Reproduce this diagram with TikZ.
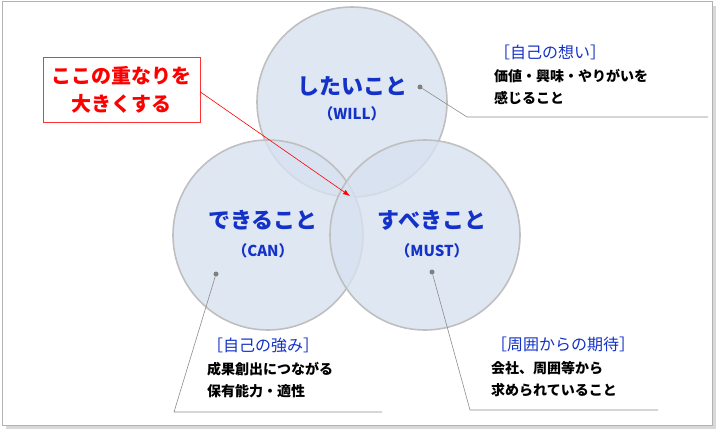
\documentclass[tikz,border=0pt]{standalone}
\usepackage{fontspec}
\setmainfont{Noto Sans CJK JP}
\usetikzlibrary{arrows.meta}
\definecolor{circfill}{RGB}{215,225,240}
\definecolor{titleblue}{RGB}{20,50,200}
\newcommand{\notehead}[1]{\textcolor{titleblue}{\fontsize{16}{22.5}\selectfont\mdseries #1}}
\tikzset{
  venn/.style={draw=black!25,line width=1.6pt,fill=circfill,fill opacity=0.8},
  vtitle/.style={text=titleblue,font=\fontsize{22}{24}\selectfont\bfseries},
  vsub/.style={text=titleblue,font=\fontsize{15}{17}\selectfont\bfseries},
  note/.style={align=left,anchor=north west,font=\fontsize{14}{22.5}\selectfont\bfseries,inner sep=0pt},
  lead/.style={draw=black!45,line width=0.6pt},
  dot/.style={circle,fill=black!50,inner sep=0pt,minimum size=5pt}
}
\begin{document}
\begin{tikzpicture}[x=1pt,y=-1pt]
  \useasboundingbox (0,0) rectangle (720,433);
  \draw[black!30,line width=1pt] (2,2) rectangle (712,425);
  \draw[black!15,line width=3pt] (714,6) -- (714,427) -- (6,427);
  % Circles
  \draw[venn] (352,102) circle (95);
  \draw[venn] (268,235) circle (95);
  \draw[venn] (425,235) circle (95);
  % Circle titles
  \node[vtitle] (will) at (352,86) {したいこと};
  \node[vsub] (willsub) at (352,114) {（WILL）};
  \node[vtitle] (can) at (263,220) {できること};
  \node[vsub] (cansub) at (263,251) {（CAN）};
  \node[vtitle] (must) at (432,220) {すべきこと};
  \node[vsub] (mustsub) at (432,251) {（MUST）};
  % Callouts
  \node[dot] (dwill) at (420,87) {};
  \coordinate (kwill) at (467,117);
  \coordinate (ewill) at (708,117);
  \draw[lead] (dwill) -- (kwill) -- (ewill);
  \node[note] (nwill) at (494,45) {\notehead{［自己の想い］}\\価値・興味・やりがいを\\感じること};
  \node[dot] (dcan) at (216,274) {};
  \coordinate (kcan) at (174,412);
  \coordinate (ecan) at (382,412);
  \draw[lead] (dcan) -- (kcan) -- (ecan);
  \node[note] (ncan) at (207,338) {\notehead{［自己の強み］}\\成果創出につながる\\保有能力・適性};
  \node[dot] (dmust) at (432,272) {};
  \coordinate (kmust) at (470,410);
  \coordinate (emust) at (658,410);
  \draw[lead] (dmust) -- (kmust) -- (emust);
  \node[note] (nmust) at (491,337) {\notehead{［周囲からの期待］}\\会社、周囲等から\\求められていること};
  % Red note
  \node[draw=red!80,fill=white,line width=0.8pt,text=red,align=center,minimum width=157,minimum height=65,
    font=\fontsize{20}{28}\selectfont\bfseries] (hint) at (121.5,90) {ここの重なりを\\大きくする};
  \coordinate (centre) at (350,196);
  \draw[red,line width=0.6pt,-{Latex[length=7pt,width=5pt]}] (hint.east) ++(0,2) -- (centre);
\end{tikzpicture}
\end{document}
